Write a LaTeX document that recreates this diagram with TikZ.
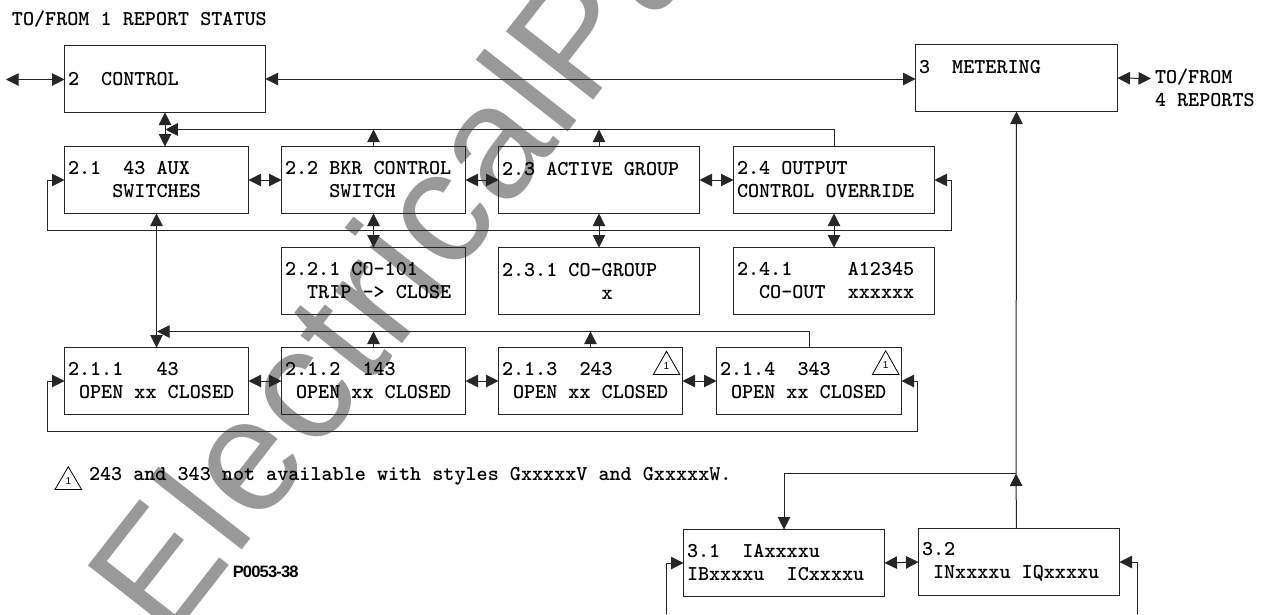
\documentclass[tikz,border=0pt]{standalone}
\usepackage{fontspec}
\usetikzlibrary{arrows.meta,calc}
\newfontfamily\wmfont[LetterSpace=1.6]{Liberation Sans}
\newfontfamily\numfont{Liberation Sans}
\newfontfamily\partfont[LetterSpace=-5]{Liberation Sans}
\newcommand{\boxfont}{\ttfamily\bfseries\fontsize{21.1}{23}\selectfont}
\tikzset{
  x=1pt,y=-1pt,
  lin/.style={line width=1pt,draw=black!85},
  dbl/.style={lin,{Triangle[length=12.5pt,width=12.5pt]}-{Triangle[length=12.5pt,width=12.5pt]}},
  sgl/.style={lin,-{Triangle[length=12.5pt,width=12.5pt]}},
  mono/.style={align=left,font=\boxfont,text=black,execute at begin node={\spaceskip=11.08pt \xspaceskip=11.08pt }},
  bx/.style={mono,draw=black!85,line width=1pt,anchor=north west,inner xsep=3.5pt,inner ysep=0pt,outer sep=0pt,
    minimum height=67pt},
  w/.style={text width=#1pt-7pt},
  plain/.style={mono,anchor=west,inner sep=0pt,outer sep=0pt},
  warn/.style={draw=black,line width=0.8pt,fill=white},
  warnnum/.style={inner sep=0pt,font=\numfont\fontsize{10}{10}\selectfont},
  wm/.style={anchor=base west,inner sep=0pt,rotate=52,text=black!40,font=\wmfont\fontsize{161}{161}\selectfont}
}
\begin{document}
\begin{tikzpicture}
\useasboundingbox (0,0) rectangle (1267,614);
\begin{scope}
\clip (0,0) rectangle (1267,614);
\node[wm] (mark) at (167.4,645) {ElectricalPa};
\end{scope}

\node[plain] (t1) at (12,19) {TO/FROM 1 REPORT STATUS};

\node[bx,w=201] (c2) at (64.5,45.5) {2~~CONTROL};
\node[bx,w=202] (m3) at (915.5,44.5) {3~~METERING\\~};
\node[plain] (t4) at (1155,88) {TO/FROM\\4 REPORTS};

\node[bx,w=184] (s21) at (64.5,146.5) {2.1~~43 AUX\\~~~~SWITCHES};
\node[bx,w=184] (s22) at (281.5,146.5) {2.2 BKR CONTROL\\~~~~SWITCH};
\node[bx,w=201] (s23) at (498.5,146.5) {2.3 ACTIVE GROUP\\~};
\node[bx,w=201] (s24) at (733.5,146.5) {2.4 OUTPUT\\CONTROL OVERRIDE};

\node[bx,w=184] (s221) at (281.5,247.5) {2.2.1 CO-101\\~~TRIP -> CLOSE};
\node[bx,w=201] (s231) at (498.5,247.5) {2.3.1 CO-GROUP\\~~~~~~~~~x};
\node[bx,w=201] (s241) at (733.5,247.5) {2.4.1~~~~~A12345\\~~CO-OUT~~xxxxxx};

\node[bx,w=184] (s211) at (64.5,347.5) {2.1.1~~~43\\~OPEN xx CLOSED};
\node[bx,w=184] (s212) at (281.5,347.5) {2.1.2~~143\\~OPEN xx CLOSED};
\node[bx,w=184] (s213) at (498.5,347.5) {2.1.3~~243\\~OPEN xx CLOSED};
\node[bx,w=185] (s214) at (716.5,347.5) {2.1.4~~343\\~OPEN xx CLOSED};

\node[bx,w=201] (m31) at (683.5,529.5) {3.1~~IAxxxxu\\IBxxxxu~~ICxxxxu};
\node[bx,w=201] (m32) at (918.5,528.5) {3.2\\~INxxxxu IQxxxxu};

\node[plain] (note) at (89,476.5) {243 and 343 not available with styles GxxxxxV and GxxxxxW.};
\node[anchor=west,inner sep=0pt,font=\partfont\bfseries\fontsize{16.5}{16.5}\selectfont] (part) at (232.6,572) {P0053-38};

% warning triangles
\draw[warn] (55,489.5) -- (68.3,466.7) -- (81.6,489.5) -- cycle;
\node[warnnum] (w1) at (68.3,481) {1};
\draw[warn] (653.3,374.5) -- (666.5,351.3) -- (679.8,374.5) -- cycle;
\node[warnnum] (w2) at (666.5,366) {1};
\draw[warn] (872.4,374.5) -- (885.7,350.7) -- (899,374.5) -- cycle;
\node[warnnum] (w3) at (885.7,365.5) {1};

% free ends and routing points
\coordinate (lfree) at (6,79.5);
\coordinate (rfree) at (1151,78.5);
\coordinate (fba) at (165.3,129.5);
\coordinate (fbb) at (157,331.5);
\coordinate (la) at (47.5,230.5);
\coordinate (ra) at (951.5,230.5);
\coordinate (lb) at (47.5,431.5);
\coordinate (rb) at (917.5,431.5);
\coordinate (junc) at (1016,473.5);
\coordinate (lc) at (666.5,614);
\coordinate (rc) at (1137.5,614);

% top level
\draw[dbl] (lfree) -- (lfree -| c2.west);
\draw[dbl] (c2.east) -- (c2.east -| m3.west);
\draw[dbl] (m3.east) -- (rfree);
\draw[dbl] (c2.south) -- (c2.south |- s21.north);

% level 2 row
\draw[sgl] (s24.north) |- (fba);
\draw[sgl] (s22.north) -- (s22.north |- fba);
\draw[sgl] (s23.north) -- (s23.north |- fba);
\draw[dbl] (s21.east) -- (s22.west);
\draw[dbl] (s22.east) -- (s23.west);
\draw[dbl] (s23.east) -- (s24.west);
\draw[sgl] (la) |- (s21.west);
\draw[sgl] (la) -- (ra) |- (s24.east);
\draw[dbl] (s22.south) -- (s221.north);
\draw[dbl] (s23.south) -- (s231.north);
\draw[dbl] (s24.south) -- (s241.north);
\draw[dbl] (s21.south) -- (s211.north);

% level 2.1.x row
\draw[sgl] (s214.north) |- (fbb);
\draw[sgl] (s212.north) -- (s212.north |- fbb);
\draw[sgl] (s213.north) -- (s213.north |- fbb);
\draw[dbl] (s211.east) -- (s212.west);
\draw[dbl] (s212.east) -- (s213.west);
\draw[dbl] (s213.east) -- (s214.west);
\draw[sgl] (lb) |- (s211.west);
\draw[sgl] (lb) -- (rb) |- (s214.east);

% metering
\draw[sgl] (junc) -- (m3.south);
\draw[sgl] (m3.south |- m32.north) -- (junc);
\draw[sgl] (junc) -| (m31.north);
\draw[dbl] (m31.east) -- (m32.west);
\draw[sgl] (lc) |- (m31.west);
\draw[sgl] (rc) |- (m32.east);
\end{tikzpicture}
\end{document}
